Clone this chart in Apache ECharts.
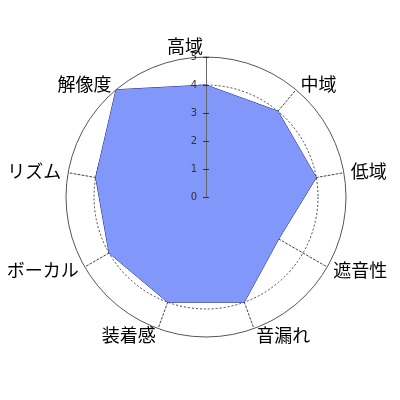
<!DOCTYPE html>
<html><head><meta charset="utf-8">
<script src="https://cdn.jsdelivr.net/npm/echarts@6/dist/echarts.min.js"></script>
<style>html,body{margin:0;padding:0;background:#fff}#c{width:400px;height:400px}</style>
</head><body><div id="c"></div>
<script>
// indicators in counter-clockwise order starting at top
const categories = ['高域','解像度','リズム','ボーカル','装着感','音漏れ','遮音性','低域','中域'];
const values = [4, 5, 4, 4, 4, 4, 3, 4, 4];
const maxValue = 5;
const tickLabels = ['0','1','2','3','4','5'];

const chart = echarts.init(document.getElementById('c'));
const center = [206, 197];
const R = 140;
chart.setOption({
  animation: false,
  radar: [
    {
      center: center, radius: R, shape: 'circle', splitNumber: 5,
      indicator: categories.map(n => ({name: n, max: maxValue, min: 0})),
      axisName: {
        color: '#000', fontSize: 18, fontFamily: 'Noto Sans CJK JP',
        formatter: (n) => n === categories[0] ? '{top|' + n + '}' : n,
        rich: {top: {fontSize: 18, fontFamily: 'Noto Sans CJK JP', color: '#000', lineHeight: 8, padding: [0, 42, 0, 0]}}
      },
      nameGap: 7,
      axisLine: {lineStyle: {color: '#444', type: [2, 2], width: 1}},
      splitLine: {lineStyle: {color: ['transparent','transparent','transparent','transparent','transparent','#555'], width: 1}},
      splitArea: {show: false},
      axisTick: {show: false}, axisLabel: {show: false}
    },
    {
      center: center, radius: R * 4 / 5, shape: 'circle', splitNumber: 1,
      indicator: categories.map(n => ({name: '', max: 4, min: 0})),
      axisName: {show: false},
      axisLine: {show: false},
      splitLine: {lineStyle: {color: '#444', type: [2, 2], width: 1}},
      splitArea: {show: false}
    }
  ],
  grid: {left: center[0], top: center[1] - R, height: R, width: 10},
  xAxis: {type: 'value', show: false, min: 0, max: 1},
  yAxis: [
    {type: 'value', min: 0, max: 5, interval: 1, position: 'left',
     axisLine: {show: true, lineStyle: {color: '#666'}},
     axisTick: {show: true, length: 3, lineStyle: {color: '#333'}},
     axisLabel: {margin: 9, fontSize: 10, color: '#333', fontFamily: 'DejaVu Sans', formatter: v => tickLabels[v]},
     splitLine: {show: false}, z: 5},
    {type: 'value', min: 0, max: 5, interval: 1, position: 'left', offset: 0,
     axisLine: {show: false},
     axisTick: {show: true, inside: true, length: 3, lineStyle: {color: '#333'}},
     axisLabel: {show: false}, splitLine: {show: false}, z: 5}
  ],
  series: [{
    type: 'radar', radarIndex: 0, symbol: 'none', z: 3,
    lineStyle: {color: '#1a237e', width: 1},
    areaStyle: {color: '#8197fa', opacity: 1},
    data: [{value: values}]
  }]
});
</script></body></html>
